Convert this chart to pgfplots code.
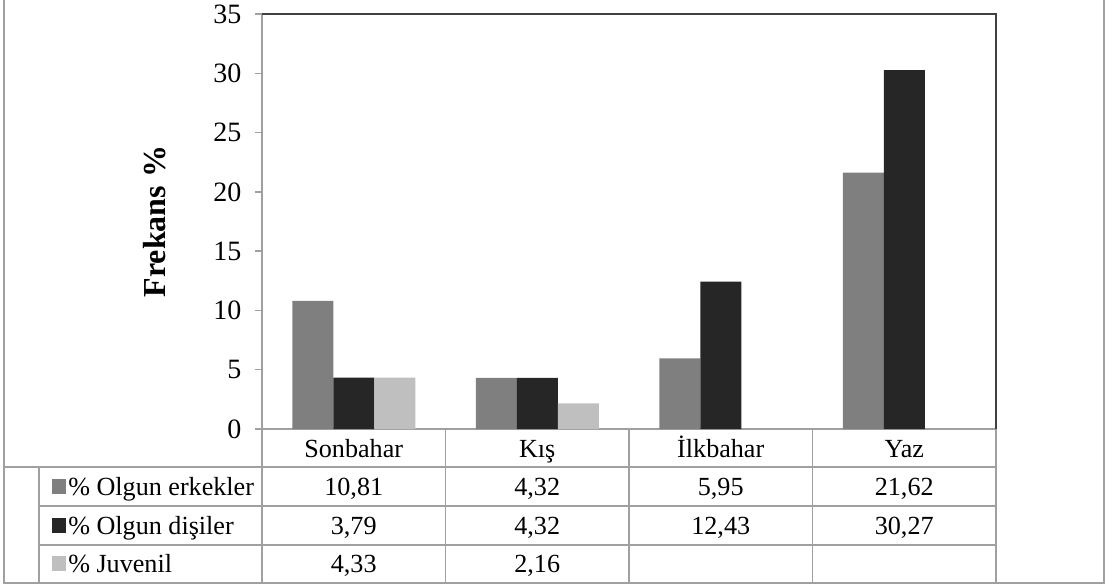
\documentclass[border=0pt]{standalone}
\usepackage{fontspec}
\setmainfont{Liberation Serif}
\usepackage{pgfplots}
\pgfplotsset{compat=1.18}
\definecolor{erkek}{HTML}{7F7F7F}
\definecolor{disi}{HTML}{262626}
\definecolor{juv}{HTML}{BFBFBF}
\definecolor{tline}{HTML}{A0A0A0}
\definecolor{frame}{HTML}{404040}
\newcommand{\tabfont}{\fontsize{19.6}{23}\selectfont}
\begin{document}
\begin{tikzpicture}
\begin{axis}[
  at={(196.5pt,117.75pt)}, anchor=south west,
  width=550.5pt, height=311.25pt, scale only axis,
  xmin=-0.5, xmax=3.5, ymin=0, ymax=35,
  xtick=\empty, ytick={0,5,...,35},
  axis lines*=left,
  axis line style={-, draw=tline, line width=1.2pt},
  tick align=outside, major tick length=5.25pt,
  ytick style={draw=tline, line width=1pt},
  /pgf/number format/assume math mode=true,
  yticklabel style={font=\fontsize{21}{24}\selectfont, xshift=-6.75pt},
  ylabel={\textbf{Frekans \%}},
  ylabel style={font=\fontsize{24}{28}\selectfont, at={(axis description cs:-0.146,0.5)}, anchor=center},
  ybar=0pt, bar width=30.75pt,
  clip=false,
]
% Olgun erkekler
\addplot[fill=erkek, draw=none] coordinates {(0,10.81) (1,4.32) (2,5.95) (3,21.62)};
% Olgun disiler (Sonbahar bar is drawn at about 4.3)
\addplot[fill=disi, draw=none] coordinates {(0,4.33) (1,4.32) (2,12.43) (3,30.27)};
% Juvenil
\addplot[fill=juv, draw=none] coordinates {(0,4.33) (1,2.16)};
\draw[frame, line width=1.5pt] (rel axis cs:0,1) -- (rel axis cs:1,1) -- (rel axis cs:1,0);
\end{axis}
% data table under the plot, in pixel units
\begin{scope}[x=0.75pt, y=-0.75pt, shift={(0pt,439.5pt)}]
  \draw[tline, line width=1.2pt] (4,0) -- (4,583) -- (1104,583) -- (1104,0);
  \draw[tline, line width=1.2pt] (4,467) -- (996,467);
  \draw[tline, line width=1.2pt] (39,506) -- (996,506) (39,545) -- (996,545);
  \draw[tline, line width=1.2pt] (39,467) -- (39,583);
  \foreach \x in {262,445.5,629,812.5,996}
    \draw[tline, line width=1.2pt] (\x,429) -- (\x,583);
  \node[font=\tabfont, anchor=base] at (353.75,457) {Sonbahar};
  \node[font=\tabfont, anchor=base] at (537.25,457) {Kış};
  \node[font=\tabfont, anchor=base] at (720.75,457) {İlkbahar};
  \node[font=\tabfont, anchor=base] at (904.25,457) {Yaz};
  % legend keys and row labels
  \fill[erkek] (52,479) rectangle (66,494);
  \fill[disi] (52,518) rectangle (66,533);
  \fill[juv] (52,556) rectangle (66,571);
  \node[font=\tabfont, anchor=base west, inner sep=0pt] at (68,495) {\% Olgun erkekler};
  \node[font=\tabfont, anchor=base west, inner sep=0pt] at (68,534) {\% Olgun dişiler};
  \node[font=\tabfont, anchor=base west, inner sep=0pt] at (68,572) {\% Juvenil};
  % values
  \foreach \x/\v in {353.75/{10,81}, 537.25/{4,32}, 720.75/{5,95}, 904.25/{21,62}}
    \node[font=\tabfont, anchor=base] at (\x,495) {\v};
  \foreach \x/\v in {353.75/{3,79}, 537.25/{4,32}, 720.75/{12,43}, 904.25/{30,27}}
    \node[font=\tabfont, anchor=base] at (\x,534) {\v};
  \foreach \x/\v in {353.75/{4,33}, 537.25/{2,16}}
    \node[font=\tabfont, anchor=base] at (\x,572) {\v};
\end{scope}
\pgfresetboundingbox
\path (0,0) rectangle (834.75pt,439.5pt);
\end{tikzpicture}
\end{document}
